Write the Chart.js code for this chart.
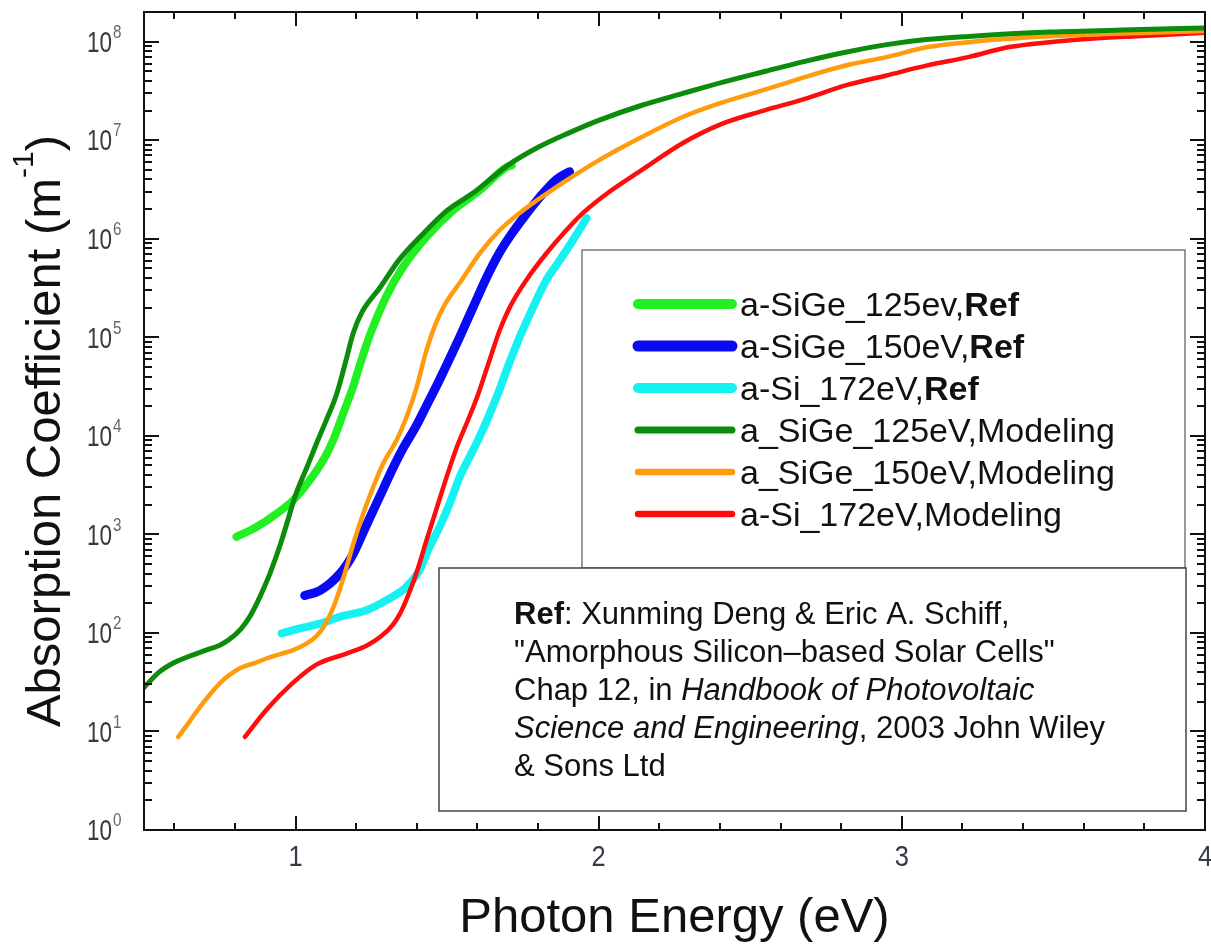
<!DOCTYPE html>
<html>
<head>
<meta charset="utf-8">
<title>Absorption Coefficient vs Photon Energy</title>
<script src="https://cdn.jsdelivr.net/npm/chart.js@4.4.1/dist/chart.umd.min.js"></script>
<style>
    html, body { margin: 0; padding: 0; background: #fff; }
    #wrap { position: relative; width: 1211px; height: 949px; }
</style>
</head>
<body>
<div id="wrap"><canvas id="absChart"></canvas></div>
<script>
// Photon energy (eV) and absorption coefficient (m^-1)

// a-SiGe 125 eV, reference data
const eSiGe125Ref = [0.805, 0.871, 0.937, 0.992, 1.047, 1.091, 1.124, 1.157, 1.19, 1.212, 1.245, 1.30, 1.354, 1.431, 1.519, 1.607, 1.695, 1.713];
const aSiGe125Ref = [944, 1190, 1620, 2220, 3550, 5650, 9020, 16800, 31600, 52500, 105000, 263000, 513000, 1.04e6, 1.94e6, 3.09e6, 5.31e6, 5.55e6];

// a-SiGe 150 eV, reference data
const eSiGe150Ref = [1.03, 1.08, 1.146, 1.19, 1.223, 1.256, 1.289, 1.321, 1.354, 1.398, 1.431, 1.464, 1.486, 1.541, 1.585, 1.629, 1.673, 1.717, 1.761, 1.805, 1.86, 1.904];
const aSiGe150Ref = [240, 269, 398, 631, 1050, 1740, 2880, 4680, 7410, 12600, 20000, 31600, 43700, 100000, 200000, 398000, 724000, 1.17e6, 1.78e6, 2.63e6, 3.98e6, 4.79e6];

// a-Si 172 eV, reference data
const eSi172Ref = [0.954, 1.014, 1.08, 1.146, 1.234, 1.30, 1.366, 1.409, 1.442, 1.475, 1.508, 1.541, 1.574, 1.607, 1.64, 1.673, 1.695, 1.739, 1.783, 1.827, 1.871, 1.915, 1.96];
const aSi172Ref = [99, 111, 124, 146, 170, 215, 293, 434, 746, 1190, 2040, 3800, 6100, 9770, 16600, 29500, 45700, 100000, 200000, 380000, 603000, 966000, 1.62e6];

// a_SiGe 125 eV, modeling
const eSiGe125Model = [0.50, 0.55, 0.60, 0.65, 0.70, 0.75, 0.78, 0.82, 0.85, 0.88, 0.915, 0.95, 0.975, 1.00, 1.04, 1.07, 1.10, 1.135, 1.165, 1.19, 1.22, 1.28, 1.34, 1.42, 1.50, 1.59, 1.70, 1.80, 1.90, 2.00, 2.14, 2.28, 2.41, 2.55, 2.68, 2.81, 2.95, 3.08, 3.22, 3.49, 3.76, 4.00];
const aSiGe125Model = [28, 40, 50, 58, 66, 75, 85, 110, 148, 224, 398, 794, 1410, 2510, 5010, 8510, 14100, 26300, 56200, 110000, 182000, 324000, 603000, 1.12e6, 1.94e6, 2.98e6, 5.55e6, 8.47e6, 1.18e7, 1.59e7, 2.25e7, 3.0e7, 3.89e7, 5.01e7, 6.31e7, 7.76e7, 9.33e7, 1.05e8, 1.13e8, 1.25e8, 1.32e8, 1.38e8];

// a_SiGe 150 eV, modeling
const eSiGe150Model = [0.613, 0.65, 0.685, 0.75, 0.816, 0.87, 0.904, 0.95, 0.992, 1.03, 1.069, 1.10, 1.13, 1.16, 1.19, 1.223, 1.256, 1.289, 1.333, 1.366, 1.40, 1.43, 1.46, 1.49, 1.541, 1.607, 1.673, 1.75, 1.86, 2.00, 2.14, 2.275, 2.41, 2.545, 2.68, 2.814, 2.949, 3.084, 3.219, 3.353, 3.623, 4.00];
const aSiGe150Model = [8.8, 12.6, 17.8, 30.8, 43.7, 50, 55, 61, 67, 76, 93, 126, 200, 380, 794, 1620, 3020, 5250, 9020, 15500, 31600, 70800, 132000, 209000, 355000, 708000, 1.22e6, 1.94e6, 3.34e6, 6.24e6, 1.07e7, 1.71e7, 2.43e7, 3.24e7, 4.37e7, 5.73e7, 6.97e7, 8.81e7, 9.89e7, 1.07e8, 1.18e8, 1.28e8];

// a-Si 172 eV, modeling
const eSi172Model = [0.833, 0.904, 0.99, 1.07, 1.168, 1.234, 1.28, 1.32, 1.345, 1.366, 1.398, 1.431, 1.464, 1.497, 1.53, 1.574, 1.602, 1.64, 1.673, 1.706, 1.761, 1.827, 1.893, 1.951, 2.032, 2.14, 2.275, 2.41, 2.545, 2.68, 2.814, 2.949, 3.084, 3.219, 3.353, 3.488, 3.623, 3.758, 4.00];
const aSi172Model = [8.8, 16.6, 30.9, 47.9, 61.7, 74.1, 91.2, 120, 158, 219, 398, 851, 1780, 3720, 7410, 15800, 26300, 58900, 117000, 200000, 380000, 708000, 1.22e6, 1.86e6, 2.95e6, 4.94e6, 9.27e6, 1.48e7, 2.0e7, 2.63e7, 3.6e7, 4.54e7, 5.74e7, 6.97e7, 8.81e7, 9.89e7, 1.07e8, 1.13e8, 1.23e8];

// Axis ticks
const xMajorTicks = [1, 2, 3, 4];
const xMinorTicks = [0.6, 0.8, 1.2, 1.4, 1.6, 1.8, 2.2, 2.4, 2.6, 2.8, 3.2, 3.4, 3.6, 3.8];
const yDecades = [0, 1, 2, 3, 4, 5, 6, 7, 8];

// Legend text (plain part + bold part)
const legendPlain = ['a-SiGe_125ev,', 'a-SiGe_150eV,', 'a-Si_172eV,', 'a_SiGe_125eV,Modeling', 'a_SiGe_150eV,Modeling', 'a-Si_172eV,Modeling'];
const legendBold = ['Ref', 'Ref', 'Ref', '', '', ''];

// Reference note, one array of [text, style] runs per line
const refNote = [
    [['Ref', 'bold'], [': Xunming Deng & Eric A. Schiff,', 'normal']],
    [['"Amorphous Silicon\u2013based Solar Cells"', 'normal']],
    [['Chap 12, in ', 'normal'], ['Handbook of Photovoltaic', 'italic']],
    [['Science and Engineering', 'italic'], [', 2003 John Wiley', 'normal']],
    [['& Sons Ltd', 'normal']]
];

const FONT = '"Liberation Sans", Arial, Helvetica, sans-serif';

function toPoints(xs, ys) {
    return xs.map((x, i) => ({ x: x, y: ys[i] }));
}

function makeSet(label, xs, ys, color, width, order) {
    return {
        label: label,
        data: toPoints(xs, ys),
        borderColor: color,
        backgroundColor: color,
        borderWidth: width,
        pointRadius: 0,
        fill: false,
        cubicInterpolationMode: 'monotone',
        borderCapStyle: 'round',
        borderJoinStyle: 'round',
        order: order
    };
}

// text squeezed a little horizontally, like the narrow tick font of the original
function drawNarrow(ctx, text, x, y, align, squeeze) {
    ctx.save();
    ctx.translate(x, y);
    ctx.scale(squeeze, 1);
    ctx.textAlign = align;
    ctx.fillText(text, 0, 0);
    ctx.restore();
}

// Frame, inward ticks, tick labels, titles, legend and reference note
const decorations = {
    id: 'decorations',
    afterDatasetsDraw(chart) {
        const ctx = chart.ctx;
        const area = chart.chartArea;
        const xs = chart.scales.x;
        const ys = chart.scales.y;
        ctx.save();

        // ticks
        ctx.strokeStyle = '#111';
        ctx.lineWidth = 2;
        ctx.beginPath();
        xMinorTicks.concat(xMajorTicks).forEach(v => {
            const p = Math.round(xs.getPixelForValue(v));
            const len = Number.isInteger(v) ? 14 : 7;
            ctx.moveTo(p, area.bottom); ctx.lineTo(p, area.bottom - len);
            ctx.moveTo(p, area.top); ctx.lineTo(p, area.top + len);
        });
        yDecades.forEach(k => {
            for (let m = 1; m <= 9; m++) {
                const v = m * Math.pow(10, k);
                if (v > ys.max) break;
                const p = Math.round(ys.getPixelForValue(v));
                const len = m === 1 ? 15 : 8;
                ctx.moveTo(area.left, p); ctx.lineTo(area.left + len, p);
                ctx.moveTo(area.right, p); ctx.lineTo(area.right - len, p);
            }
        });
        ctx.stroke();

        // frame
        ctx.strokeRect(area.left, area.top, area.right - area.left, area.bottom - area.top);

        // x tick labels
        ctx.fillStyle = '#343a48';
        ctx.font = '30px ' + FONT;
        ctx.textBaseline = 'middle';
        xMajorTicks.forEach(v => {
            drawNarrow(ctx, String(v), xs.getPixelForValue(v), area.bottom + 28, 'center', 0.85);
        });

        // y tick labels 10^k
        yDecades.forEach(k => {
            const p = ys.getPixelForValue(Math.pow(10, k));
            ctx.fillStyle = '#3a3a3a';
            ctx.font = '30px ' + FONT;
            drawNarrow(ctx, '10', 112, p + 2, 'right', 0.75);
            ctx.fillStyle = '#666';
            ctx.font = '19px ' + FONT;
            drawNarrow(ctx, String(k), 113, p - 9, 'left', 0.8);
        });

        // x title
        ctx.fillStyle = '#111';
        ctx.textBaseline = 'alphabetic';
        ctx.textAlign = 'center';
        ctx.font = '49px ' + FONT;
        ctx.fillText('Photon Energy (eV)', (area.left + area.right) / 2, 932);

        // y title with superscript
        ctx.save();
        ctx.translate(60, 431);
        ctx.rotate(-Math.PI / 2);
        ctx.textAlign = 'left';
        ctx.font = '49px ' + FONT;
        const main = 'Absorption Coefficient (m';
        const wMain = ctx.measureText(main).width;
        const wClose = ctx.measureText(')').width;
        ctx.font = '30px ' + FONT;
        const wSup = ctx.measureText('-1').width;
        let cx = -(wMain + wSup + wClose) / 2;
        ctx.font = '49px ' + FONT;
        ctx.fillText(main, cx, 0);
        cx += wMain;
        ctx.font = '30px ' + FONT;
        ctx.fillText('-1', cx, -27);
        cx += wSup;
        ctx.font = '49px ' + FONT;
        ctx.fillText(')', cx, 0);
        ctx.restore();

        // legend box
        ctx.fillStyle = '#fff';
        ctx.fillRect(582, 250, 603, 318);
        ctx.strokeStyle = '#555';
        ctx.lineWidth = 1.2;
        ctx.strokeRect(582, 250, 603, 318);

        // legend rows: the three reference sets first, then the models
        const legendSets = [3, 4, 5, 0, 1, 2];
        legendSets.forEach((dsIndex, row) => {
            const ds = chart.data.datasets[dsIndex];
            const y = 304 + row * 42;
            ctx.strokeStyle = ds.borderColor;
            ctx.lineWidth = ds.borderWidth + 2;
            ctx.lineCap = 'round';
            ctx.beginPath();
            ctx.moveTo(638, y);
            ctx.lineTo(732, y);
            ctx.stroke();
            ctx.fillStyle = '#111';
            ctx.textAlign = 'left';
            ctx.font = '34px ' + FONT;
            ctx.fillText(legendPlain[row], 740, y + 12);
            if (legendBold[row]) {
                const w = ctx.measureText(legendPlain[row]).width;
                ctx.font = 'bold 34px ' + FONT;
                ctx.fillText(legendBold[row], 740 + w, y + 12);
            }
        });

        // reference note box
        ctx.fillStyle = '#fff';
        ctx.fillRect(439, 568, 747, 243);
        ctx.strokeStyle = '#444';
        ctx.lineWidth = 1.5;
        ctx.strokeRect(439, 568, 747, 243);
        ctx.fillStyle = '#111';
        refNote.forEach((runs, i) => {
            let x = 514;
            const y = 624 + i * 38;
            runs.forEach(run => {
                ctx.font = (run[1] === 'normal' ? '' : run[1] + ' ') + '31px ' + FONT;
                ctx.fillText(run[0], x, y);
                x += ctx.measureText(run[0]).width;
            });
        });

        ctx.restore();
    }
};

// Build the chart
const ctx = document.getElementById('absChart').getContext('2d');
const chart = new Chart(ctx, {
    type: 'line',
    data: {
        datasets: [
            makeSet('a_SiGe_125eV,Modeling', eSiGe125Model, aSiGe125Model, '#0b8c0b', 5, 1),
            makeSet('a_SiGe_150eV,Modeling', eSiGe150Model, aSiGe150Model, '#ff9c0e', 4.5, 1),
            makeSet('a-Si_172eV,Modeling', eSi172Model, aSi172Model, '#ff0c0c', 4.5, 1),
            makeSet('a-SiGe_125ev,Ref', eSiGe125Ref, aSiGe125Ref, '#22f022', 8, 2),
            makeSet('a-SiGe_150eV,Ref', eSiGe150Ref, aSiGe150Ref, '#0a0af5', 9, 2),
            makeSet('a-Si_172eV,Ref', eSi172Ref, aSi172Ref, '#16f2f2', 8, 2)
        ]
    },
    options: {
        responsive: true,
        maintainAspectRatio: false,
        animation: false,
        layout: { padding: { left: 0, top: 12, right: 6, bottom: 0 } },
        plugins: {
            legend: { display: false },
            tooltip: { enabled: false }
        },
        scales: {
            x: {
                type: 'linear',
                min: 0.5,
                max: 4,
                grid: { display: false },
                border: { display: false },
                ticks: { display: false },
                afterFit(scale) { scale.height = 119; }
            },
            y: {
                type: 'logarithmic',
                min: 1,
                max: 2e8,
                grid: { display: false },
                border: { display: false },
                ticks: { display: false },
                afterFit(scale) { scale.width = 144; }
            }
        }
    },
    plugins: [decorations]
});
</script>
</body>
</html>
